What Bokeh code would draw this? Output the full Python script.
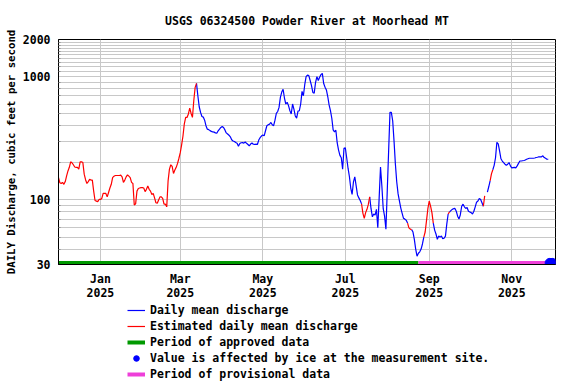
import numpy as np
import pandas as pd
from bokeh.plotting import figure
from bokeh.layouts import column
from bokeh.models import Range1d, FixedTicker, Legend, LegendItem, NumeralTickFormatter
from bokeh.embed import file_html
from bokeh.resources import INLINE

TITLE = "USGS 06324500 Powder River at Moorhead MT"
Y_LABEL = "DAILY Discharge, cubic feet per second"

# ---- daily mean discharge, cubic feet per second ----
FIRST_DAY = "2024-12-01"
flow_dec = [152, 138, 136, 139, 134, 141, 157, 172, 184, 204,
            200, 193, 185, 184, 184, 178, 204, 204, 201, 162,
            146, 136, 141, 147, 145, 145, 118, 99, 98, 97, 101]
flow_jan = [101, 103, 113, 113, 113, 106, 115, 125, 134, 152,
            156, 158, 158, 158, 158, 159, 154, 139, 145, 154,
            160, 156, 152, 139, 136, 91, 93, 118, 124, 125, 126]
flow_feb = [126, 125, 117, 122, 130, 122, 118, 111, 113, 104,
            95, 94, 100, 106, 106, 103, 92.5, 92.5, 88, 143,
            178, 193, 187, 164, 175, 184, 198, 218]
flow_mar = [242, 280, 330, 415, 467, 467, 498, 556, 503, 467,
            640, 819, 882, 700, 570, 513, 475, 470, 444, 400,
            375, 372, 365, 360, 356, 355, 350, 348, 364, 375, 387]
flow_apr = [394, 387, 370, 350, 343, 335, 325, 308, 301, 298,
            292, 288, 273, 287, 291, 292, 289, 295, 288, 282,
            275, 284, 290, 283, 282, 284, 282, 306, 320, 330]
flow_may = [337, 331, 364, 400, 407, 412, 425, 407, 400, 444,
            503, 522, 563, 680, 750, 790, 671, 600, 620, 582,
            530, 498, 600, 546, 480, 461, 525, 529, 600, 759, 700]
flow_jun = [860, 1000, 1030, 1019, 930, 845, 745, 735, 900, 1000,
            930, 987, 1038, 1064, 880, 822, 780, 690, 590, 530,
            460, 370, 357, 368, 290, 254, 230, 220, 178, 262]
flow_jul = [265, 220, 181, 155, 125, 111, 140, 154, 130, 110,
            104, 99, 93, 78, 71, 79, 84, 92, 106, 85,
            73, 77, 75.5, 84, 59.5, 104, 185, 130, 85, 74, 58]
flow_aug = [120, 250, 513, 513, 439, 300, 195, 140, 112, 98,
            86, 78, 71, 70, 68.5, 65, 59.5, 58, 57.5, 55,
            48, 40, 35, 37, 38, 40, 44, 50, 55, 68, 85]
flow_sep = [98, 89, 79, 65, 57, 53, 48, 51, 50, 51,
            48.5, 49, 51, 64, 77, 80, 82, 84, 85, 85.5,
            81, 74, 70, 76, 89, 92.5, 88, 85.5, 87, 81]
flow_oct = [80, 79, 77, 81, 88, 96, 98, 103, 101, 95,
            89, 108, None, 116, 128, 143, 163, 176, 191, 220,
            293, 285, 250, 216, 207, 201, 195, 191, 195, 201, 189]
flow_nov = [182, 183, 184, 182, 189, 198, 207, 207, 208, 209,
            211, 214, 216, 218, 218, 218, 218, 219, 221, 222,
            224, 224, 224, 228, 221, 218, 214, 214]

estimated_periods = [("2024-12-01", "2025-03-13"), ("2025-07-13", "2025-07-19"),
                     ("2025-08-16", "2025-08-19"), ("2025-08-28", "2025-09-04"),
                     ("2025-09-15", "2025-09-16"), ("2025-10-11", "2025-10-12"),
                     ("2025-10-16", "2025-10-18")]
approved_period = ("2024-12-01", "2025-08-24")
provisional_period = ("2025-08-24", "2025-12-03 08:00")
ice_days = ["2025-11-29", "2025-11-30", "2025-12-01"]

x_limits = ("2024-12-01", "2025-12-03 08:00")
y_limits = (30, 2000)
x_tick_dates = ["2025-01-01", "2025-03-01", "2025-05-01", "2025-07-01", "2025-09-01", "2025-11-01"]
x_tick_labels = ["Jan\n2025", "Mar\n2025", "May\n2025", "Jul\n2025", "Sep\n2025", "Nov\n2025"]
y_major_ticks = [30, 100, 1000, 2000]
y_minor_ticks = [40, 50, 60, 70, 80, 90, 200, 300, 400, 500, 600, 700, 800, 900,
                 1100, 1200, 1300, 1400, 1500, 1600, 1700, 1800, 1900]
legend_labels = ["Daily mean discharge", "Estimated daily mean discharge",
                 "Period of approved data", "Value is affected by ice at the measurement site.",
                 "Period of provisional data"]

# ---- styles ----
FONT = "DejaVu Sans Mono"
BLUE, RED, GREEN, PINK, GRID = "#0000FF", "#FF0000", "#009900", "#EE3FD9", "#C8C8C8"
BAR_LEVEL = 30.9


def ms(s):
    return pd.Timestamp(s).value / 1e6


flow = (flow_dec + flow_jan + flow_feb + flow_mar + flow_apr + flow_may + flow_jun +
        flow_jul + flow_aug + flow_sep + flow_oct + flow_nov)
dates = pd.date_range(FIRST_DAY, periods=len(flow), freq="D")
q = np.array([np.nan if v is None else v for v in flow], dtype=float)
xd = np.array([ms(d) for d in dates])
est = np.zeros(len(flow), dtype=bool)
for a, b in estimated_periods:
    est |= (dates >= pd.Timestamp(a)) & (dates <= pd.Timestamp(b))

# split into coloured polylines: a step is red when both ends are estimated
runs = {"red": ([], []), "blue": ([], [])}
cur_color, cur_x, cur_y = None, [], []
for i in range(len(flow) - 1):
    if np.isnan(q[i]) or np.isnan(q[i + 1]):
        color = None
    else:
        color = "red" if (est[i] and est[i + 1]) else "blue"
    if color != cur_color:
        if cur_color is not None:
            runs[cur_color][0].append(cur_x)
            runs[cur_color][1].append(cur_y)
        cur_color = color
        cur_x, cur_y = ([xd[i]], [q[i]]) if color else ([], [])
    if color:
        cur_x.append(xd[i + 1])
        cur_y.append(q[i + 1])
if cur_color is not None:
    runs[cur_color][0].append(cur_x)
    runs[cur_color][1].append(cur_y)

p = figure(frame_width=497, frame_height=225, x_axis_type="datetime", y_axis_type="log",
           x_range=Range1d(ms(x_limits[0]), ms(x_limits[1])),
           y_range=Range1d(*y_limits),
           output_backend="svg", toolbar_location=None,
           min_border_left=58, min_border_right=19, min_border_top=39, min_border_bottom=36,
           title=TITLE)
p.background_fill_color = "white"
p.border_fill_color = "white"
p.outline_line_color = "black"
p.outline_line_width = 1

p.title.align = "center"
p.title.text_font = FONT
p.title.text_font_size = "11.5px"
p.title.text_font_style = "bold"
p.title.text_color = "black"
p.title.standoff = 23

# axes
p.xaxis.ticker = FixedTicker(ticks=[ms(d) for d in x_tick_dates])
p.xaxis.major_label_overrides = {ms(d): lab for d, lab in zip(x_tick_dates, x_tick_labels)}
p.yaxis.ticker = FixedTicker(ticks=y_major_ticks, minor_ticks=y_minor_ticks)
p.yaxis.formatter = NumeralTickFormatter(format="0")
p.yaxis.axis_label = Y_LABEL
for ax in (p.xaxis, p.yaxis):
    ax.major_label_text_font = FONT
    ax.major_label_text_font_size = "11.5px"
    ax.major_label_text_font_style = "bold"
    ax.major_label_text_color = "black"
    ax.axis_line_color = "black"
    ax.major_tick_in = 0
    ax.major_tick_out = 0
    ax.minor_tick_out = 0
    ax.minor_tick_in = 0
p.yaxis.minor_tick_in = 2
p.yaxis.minor_tick_line_color = "#888888"
p.xaxis.major_label_standoff = 7
p.xaxis.major_label_text_line_height = 1.0
p.yaxis.major_label_standoff = 8
p.yaxis.axis_label_text_font = FONT
p.yaxis.axis_label_text_font_size = "10.7px"
p.yaxis.axis_label_text_font_style = "bold"
p.yaxis.axis_label_text_color = "black"
p.yaxis.axis_label_standoff = 2

p.xgrid.grid_line_color = GRID
p.ygrid.grid_line_color = GRID
p.ygrid.minor_grid_line_color = GRID

# period bars
bar_style = dict(line_width=4)
r_green = p.line([ms(approved_period[0]), ms(approved_period[1])], [BAR_LEVEL, BAR_LEVEL],
                 line_color=GREEN, **bar_style)
r_pink = p.line([ms(provisional_period[0]), ms(provisional_period[1])], [BAR_LEVEL, BAR_LEVEL],
                line_color=PINK, **bar_style)

# discharge lines
r_blue = p.multi_line(runs["blue"][0], runs["blue"][1], line_color=BLUE, line_width=1.2)
r_red = p.multi_line(runs["red"][0], runs["red"][1], line_color=RED, line_width=1.2)

# ice-affected values
r_ice = p.scatter([ms(d) for d in ice_days], [BAR_LEVEL] * len(ice_days), size=9,
                  marker="circle", fill_color=BLUE, line_color=BLUE)

# ---- legend panel below the chart ----
lg = figure(width=574, height=82, x_range=(0, 1), y_range=(0, 1),
            output_backend="svg", toolbar_location=None,
            min_border=0, min_border_left=0, min_border_right=0, min_border_top=0, min_border_bottom=0)
lg.axis.visible = False
lg.grid.visible = False
lg.outline_line_color = None
lg.background_fill_color = "white"
lg.border_fill_color = "white"
k_blue = lg.line([-5, -4], [-5, -4], line_color=BLUE, line_width=1.2)
k_red = lg.line([-5, -4], [-5, -4], line_color=RED, line_width=1.2)
k_green = lg.line([-5, -4], [-5, -4], line_color=GREEN, line_width=4)
k_ice = lg.scatter([-5], [-5], size=9, marker="circle", fill_color=BLUE, line_color=BLUE)
k_pink = lg.line([-5, -4], [-5, -4], line_color=PINK, line_width=4)

legend = Legend(items=[LegendItem(label=legend_labels[0], renderers=[k_blue]),
                       LegendItem(label=legend_labels[1], renderers=[k_red]),
                       LegendItem(label=legend_labels[2], renderers=[k_green]),
                       LegendItem(label=legend_labels[3], renderers=[k_ice]),
                       LegendItem(label=legend_labels[4], renderers=[k_pink])],
                location=(69, 3))
legend.label_text_font = FONT
legend.label_text_font_size = "11.5px"
legend.label_text_font_style = "bold"
legend.label_text_color = "black"
legend.glyph_width = 18
legend.glyph_height = 14
legend.label_height = 14
legend.label_standoff = 5
legend.spacing = 2
legend.padding = 0
legend.margin = 0
legend.border_line_color = None
legend.background_fill_alpha = 0
lg.add_layout(legend)

layout = column(p, lg, spacing=0)
open("out.html", "w").write(file_html(layout, INLINE))
